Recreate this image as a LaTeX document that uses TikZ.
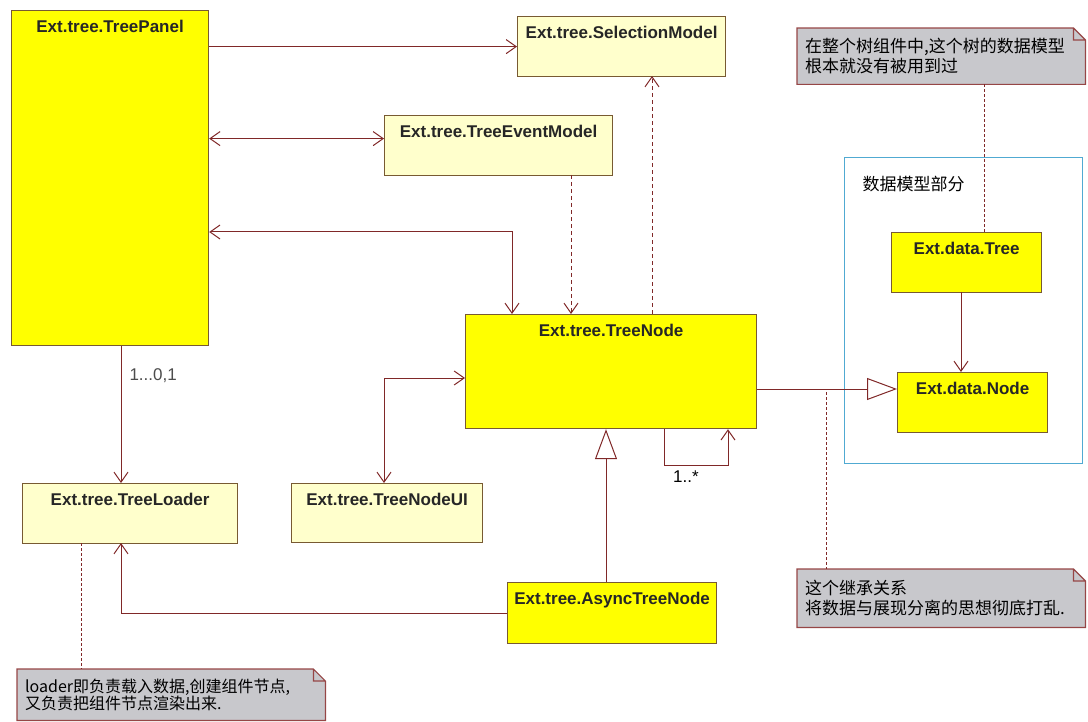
\documentclass[tikz,border=0pt]{standalone}
\usepackage{fontspec}
\setmainfont{Liberation Sans}
\newfontfamily\cjk{Noto Sans CJK SC}
\usetikzlibrary{arrows.meta}
\definecolor{linkred}{RGB}{128,40,40}
\definecolor{boxline}{RGB}{120,90,50}
\definecolor{hotyellow}{RGB}{255,255,0}
\definecolor{paleyellow}{RGB}{255,255,204}
\definecolor{notegray}{RGB}{200,200,204}
\definecolor{noteline}{RGB}{150,70,70}
\definecolor{frameblue}{RGB}{80,170,210}

\begin{document}
\begin{tikzpicture}[x=1pt, y=-1pt]
  \tikzset{every node/.style={font=\fontsize{17}{20}\selectfont},
    cls/.style={draw=boxline, line width=1.2pt, anchor=north west, inner sep=0pt},
    hot/.style={cls, fill=hotyellow},
    pale/.style={cls, fill=paleyellow},
    clsname/.style={anchor=north, yshift=-7pt, text=black!85,
      font=\fontsize{17}{20}\selectfont\bfseries},
    link/.style={draw=linkred, line width=1pt, >={Straight Barb[length=10pt, width=14pt]}},
    uses/.style={link, dash pattern=on 4pt off 3pt},
    inherit/.style={link, -{Triangle[length=30pt, width=22pt, fill=white]}},
    memo/.style={fill=notegray, anchor=north west, align=left, inner sep=8pt,
      font=\cjk\fontsize{17}{20}\selectfont},
    memoline/.style={draw=linkred, line width=0.8pt, dash pattern=on 3pt off 2pt}}
  \useasboundingbox (0,0) rectangle (1088,722);

  \node[draw=frameblue, line width=1pt, anchor=north west, inner sep=0pt,
    minimum width=238, minimum height=306] (datapart) at (844,157) {};
  \node[anchor=west, font=\cjk\fontsize{17}{20}\selectfont] (partname) at (859,184) {数据模型部分};

  \node[hot, minimum width=197, minimum height=335] (panel) at (11,10) {};
  \node[clsname] at (panel.north) {Ext.tree.TreePanel};
  \node[pale, minimum width=208, minimum height=60] (select) at (517,16) {};
  \node[clsname] at (select.north) {Ext.tree.SelectionModel};
  \node[pale, minimum width=228, minimum height=60] (event) at (384,115) {};
  \node[clsname] at (event.north) {Ext.tree.TreeEventModel};
  \node[hot, minimum width=291, minimum height=114] (treenode) at (465,314) {};
  \node[clsname] at (treenode.north) {Ext.tree.TreeNode};
  \node[pale, minimum width=191, minimum height=59] (nodeui) at (291,483) {};
  \node[clsname] at (nodeui.north) {Ext.tree.TreeNodeUI};
  \node[pale, minimum width=215, minimum height=60] (loader) at (22,483) {};
  \node[clsname] at (loader.north) {Ext.tree.TreeLoader};
  \node[hot, minimum width=209, minimum height=61] (async) at (507,582) {};
  \node[clsname] at (async.north) {Ext.tree.AsyncTreeNode};
  \node[hot, minimum width=150, minimum height=60] (datatree) at (891,232) {};
  \node[clsname] at (datatree.north) {Ext.data.Tree};
  \node[hot, minimum width=150, minimum height=60] (datanode) at (897,372) {};
  \node[clsname] at (datanode.north) {Ext.data.Node};

  \node[memo, text width=272pt, minimum height=56] (treememo) at (797,28)
    {在整个树组件中,这个树的数据模型\\根本就没有被用到过};
  \node[memo, text width=272pt, minimum height=58] (splitmemo) at (797,569)
    {这个继承关系\\将数据与展现分离的思想彻底打乱.};
  \node[memo, text width=292pt, minimum height=51, font=\cjk\fontsize{16}{17}\selectfont]
    (loadmemo) at (17,669) {loader即负责载入数据,创建组件节点,\\又负责把组件节点渲染出来.};
  \foreach \n in {treememo,splitmemo,loadmemo} {
    \fill[white] ([xshift=-12pt]\n.north east) -- (\n.north east) -- ([yshift=-12pt]\n.north east) -- cycle;
    \draw[noteline, line width=1.2pt] (\n.north west) -- ([xshift=-12pt]\n.north east)
      -- ([yshift=-12pt]\n.north east) -- (\n.south east) -- (\n.south west) -- cycle
      ([xshift=-12pt]\n.north east) |- ([yshift=-12pt]\n.north east);
  }

  \coordinate (eventlink) at ([yshift=7pt]event.west);
  \coordinate (nodelink) at (512,232);
  \coordinate (eventfoot) at (571,175);
  \coordinate (selectfoot) at (652,76);
  \coordinate (uilink) at (384,378);
  \coordinate (loopin) at (664,465);
  \coordinate (loopout) at (728,465);
  \coordinate (asynctop) at (606,582);
  \coordinate (loaderhead) at (121,483);
  \coordinate (loaderfoot) at (121,543);
  \coordinate (loadertail) at (81,543);
  \coordinate (general) at (826,389);
  \coordinate (treefoot) at (961,292);
  \coordinate (treetop) at (984,232);

  \draw[link, ->] (panel.east |- select.west) -- (select.west);
  \draw[link, <->] (panel.east |- eventlink) -- (eventlink);
  \draw[link, <->] (panel.east |- nodelink) -- (nodelink) -- (nodelink |- treenode.north);
  \draw[uses, ->] (eventfoot) -- (eventfoot |- treenode.north);
  \draw[uses, ->] (selectfoot |- treenode.north) -- (selectfoot);
  \draw[link, <->] (uilink -| treenode.west) -- (uilink) -- (uilink |- nodeui.north);
  \draw[link, ->] (loopin |- treenode.south) -- (loopin) -- (loopout) -- (loopout |- treenode.south);
  \node[inner sep=0pt] (many) at (686,477) {1..*};
  \draw[inherit] (asynctop) -- (asynctop |- treenode.south);
  \draw[link, ->] (async.west) -- (loaderfoot |- async.west) -- (loaderfoot);
  \draw[link, ->] (loaderhead |- panel.south) -- (loaderhead);
  \node[anchor=west, text=black!70] (cardinality) at (126,376) {1...0,1};
  \draw[inherit] (general -| treenode.east) -- (general -| datanode.west);
  \draw[link, ->] (treefoot) -- (treefoot |- datanode.north);

  \draw[memoline] (treetop |- treememo.south) -- (treetop);
  \draw[memoline] ([yshift=-3pt]general) -- (general |- splitmemo.north);
  \draw[memoline] (loadertail) -- (loadertail |- loadmemo.north);
\end{tikzpicture}
\end{document}
